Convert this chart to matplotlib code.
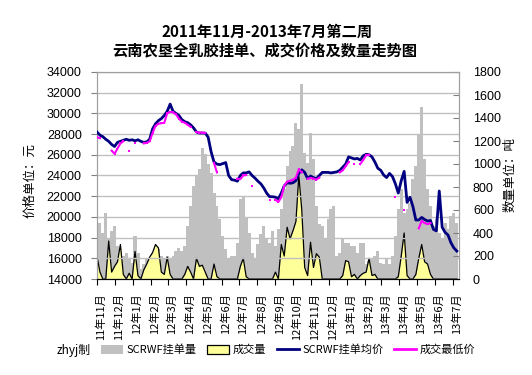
# -*- coding: utf-8 -*-
# 云南农垦全乳胶挂单、成交价格及数量走势图
import numpy as np
import pandas as pd
import matplotlib
matplotlib.use('Agg')
from matplotlib import pyplot as plt
from matplotlib.patches import Patch
from matplotlib.lines import Line2D

plt.rcParams['font.family'] = ['Noto Sans CJK SC', 'DejaVu Sans']

# dados (um ponto a cada 5 dias a partir de 2011-11-01)
nan = np.nan

# SCRWF挂单量 (吨)
gua_liang = [460, 490, 400, 577, 345, 418, 461, 287, 186, 200,
             229, 171, 142, 374, 229, 84, 128, 171, 186, 229,
             287, 258, 200, 171, 200, 170, 200, 244, 273, 244,
             287, 461, 635, 809, 896, 954, 1143, 1085, 998, 925,
             751, 635, 519, 374, 258, 186, 200, 200, 316, 700,
             720, 534, 403, 229, 186, 302, 389, 461, 360, 316,
             418, 287, 432, 606, 780, 983, 1114, 1157, 1360, 1302,
             1694, 1099, 1012, 1273, 1041, 635, 480, 461, 345, 519,
             606, 635, 200, 229, 345, 316, 316, 287, 287, 229,
             316, 316, 128, 157, 171, 200, 244, 142, 128, 186,
             128, 200, 374, 606, 780, 577, 606, 664, 867, 983,
             1250, 1500, 1041, 780, 635, 461, 519, 403, 345, 490,
             432, 548, 577, 490]

# 成交量 (吨)
cheng_liang = [200, 60, 0, 0, 330, 60, 110, 150, 300, 40,
               0, 50, 0, 240, 30, 0, 80, 130, 190, 230,
               300, 270, 60, 40, 190, 40, 0, 0, 0, 0,
               40, 110, 60, 0, 180, 110, 120, 60, 0, 0,
               130, 20, 0, 0, 0, 0, 0, 0, 0, 110,
               180, 20, 0, 0, 0, 0, 0, 0, 0, 0,
               0, 60, 0, 300, 200, 450, 350, 420, 500, 900,
               600, 100, 30, 320, 100, 220, 190, 0, 0, 0,
               0, 0, 0, 0, 30, 160, 150, 20, 40, 0,
               30, 50, 60, 180, 30, 40, 0, 0, 0, 0,
               0, 0, 0, 20, 200, 400, 30, 0, 0, 40,
               180, 300, 150, 130, 40, 0, 0, 0, 0, 0,
               0, 0, 0, 0]

# SCRWF挂单均价 (元)
jun_jia = [28200, 27900, 27750, 27500, 27300, 27000, 26800, 27200, 27300, 27400,
           27500, 27400, 27450, 27350, 27450, 27300, 27200, 27250, 27500, 28500,
           29000, 29300, 29500, 29800, 30200, 30900, 30200, 30000, 29800, 29400,
           29200, 29100, 28900, 28600, 28200, 28100, 28100, 28100, 27700, 26300,
           25300, 25100, 25050, 25150, 25250, 24000, 23600, 23550, 23450, 24000,
           24250, 24250, 24350, 24000, 23750, 23450, 23200, 22800, 22300, 21950,
           21950, 21900, 21750, 22300, 23000, 23300, 23250, 23300, 23500, 24200,
           24550, 24300, 23700, 23950, 23800, 23700, 24000, 24300, 24300, 24300,
           24250, 24300, 24350, 24500, 24800, 25100, 25800, 25700, 25600, 25650,
           25500, 25900, 26050, 26000, 25800, 25300, 24700, 24500, 24050, 23800,
           24200, 23900, 23200, 22300, 23500, 24400, 21400, 21900, 21000, 19700,
           19700, 19950, 19750, 19600, 19650, 18800, 18650, 22500, 19000, 18500,
           18250, 17500, 17000, 16700]

# 成交最低价 (元)
zui_di = [27700, 27600, nan, nan, nan, 26400, 26100, 26600, 27100, 27300,
          nan, 26350, nan, 27100, nan, nan, 27100, 27150, 27300, 28100,
          28800, 29000, 29050, 29100, 30000, 30150, 30100, 29900, 29500, 29200,
          29100, 28900, 28700, nan, 28200, 28150, 28150, 28100, nan, nan,
          25200, 24300, nan, nan, nan, nan, nan, nan, 23700, 23650,
          24000, 24050, nan, 23000, nan, nan, nan, nan, nan, 21600,
          nan, 21650, 21450, 21900, 23000, 23400, 23500, 23600, 23800, 24600,
          24300, nan, 23700, 23750, 23700, 23600, 23800, nan, nan, nan,
          nan, nan, nan, 24300, 24500, 24900, 25300, nan, 25100, nan,
          25100, 25500, 25950, 26000, nan, nan, nan, nan, nan, nan,
          nan, nan, 21900, nan, nan, 20700, nan, nan, nan, nan,
          18900, 19600, 19400, 19300, 19400, nan, nan, nan, nan, nan,
          nan, nan, nan, nan]

datas = pd.date_range('2011-11-01', periods=len(jun_jia), freq='5D')

meses = ['11年11月', '11年12月', '12年1月', '12年2月', '12年3月', '12年4月',
         '12年5月', '12年6月', '12年7月', '12年8月', '12年9月', '12年10月',
         '12年11月', '12年12月', '13年1月', '13年2月', '13年3月', '13年4月',
         '13年5月', '13年6月', '13年7月']

titulo1 = '2011年11月-2013年7月第二周'
titulo2 = '云南农垦全乳胶挂单、成交价格及数量走势图'

##### figura
fig = plt.figure(figsize=(5.32, 3.75), dpi=100)
ax = fig.add_axes([97/532, 1-279/375, (459-97)/532, (279-72)/375])
ax2 = ax.twinx()
ax.set_zorder(ax2.get_zorder() + 1)
ax.patch.set_visible(False)

# eixo direito: quantidades
ax2.bar(datas, gua_liang, width=5.3, color='#c0c0c0', linewidth=0, zorder=1)
ax2.fill_between(datas, cheng_liang, color='#ffff99', linewidth=0, zorder=2)
ax2.plot(datas, cheng_liang, color='black', lw=0.9, zorder=3)
ax2.set_ylim(0, 1800)
ax2.set_yticks(range(0, 1801, 200))
ax2.tick_params(axis='y', direction='in', length=4, color='#808080', pad=10, labelsize=9)
for t in ax2.get_yticklabels():
    t.set_fontfamily('Liberation Sans')

# eixo esquerdo: preços
ax.plot(datas, jun_jia, color='#000080', lw=2, zorder=4)
ax.plot(datas, zui_di, color='#ff00ff', lw=1.5, marker='s', ms=1.6, mew=0, zorder=5)
ax.set_ylim(14000, 34000)
ax.set_yticks(range(14000, 34001, 2000))
ax.yaxis.grid(True, color='#c0c0c0', lw=1)
ax.set_axisbelow(True)
ax.tick_params(axis='y', direction='out', length=4, color='#808080', pad=7, labelsize=9)
for t in ax.get_yticklabels():
    t.set_fontfamily('Liberation Sans')

# eixo x: meses
inicio = pd.Timestamp('2011-11-01')
fim = pd.Timestamp('2013-07-11 18:00')
ax.set_xlim(inicio, fim)
ticks_mes = pd.date_range('2011-11-01', '2013-07-01', freq='MS')
ax.set_xticks(ticks_mes)
ax.set_xticklabels([])
ax.set_xticks(ticks_mes + pd.Timedelta(days=7), minor=True)
ax.set_xticklabels(meses, minor=True, rotation=90, fontsize=8)
ax.tick_params(axis='x', which='major', direction='out', length=4, color='black')
ax.tick_params(axis='x', which='minor', length=0, pad=10)

for a in (ax, ax2):
    for lado in ('top', 'right', 'left'):
        a.spines[lado].set_color('#a0a0a0')
    a.spines['bottom'].set_color('black')

# rótulos dos eixos
fig.text(30/532, 1-180/375, '价格单位：元', rotation=90, ha='center', va='center', fontsize=9)
fig.text(510/532, 1-175/375, '数量单位：吨', rotation=90, ha='center', va='center', fontsize=9)

# título
fig.text(267/532, 1-32/375, titulo1, ha='center', va='center', fontsize=11, fontweight='bold')
fig.text(265/532, 1-50/375, titulo2, ha='center', va='center', fontsize=11, fontweight='bold')

# legenda
fig.text(57/532, 1-350/375, 'zhyj制', ha='left', va='center', fontsize=8.5)
handles = [Patch(facecolor='#c0c0c0', edgecolor='none'),
           Patch(facecolor='#ffff99', edgecolor='black', linewidth=0.9),
           Line2D([], [], color='#000080', lw=2),
           Line2D([], [], color='#ff00ff', lw=2)]
labels = ['SCRWF挂单量', '成交量', 'SCRWF挂单均价', '成交最低价']
fig.legend(handles, labels, loc='center left', bbox_to_anchor=(101/532, 1-350/375),
           ncol=4, frameon=False, fontsize=8, handlelength=2.0, handleheight=0.9,
           handletextpad=0.3, columnspacing=0.95, borderaxespad=0, borderpad=0)

plt.savefig('out.png', dpi=100)
